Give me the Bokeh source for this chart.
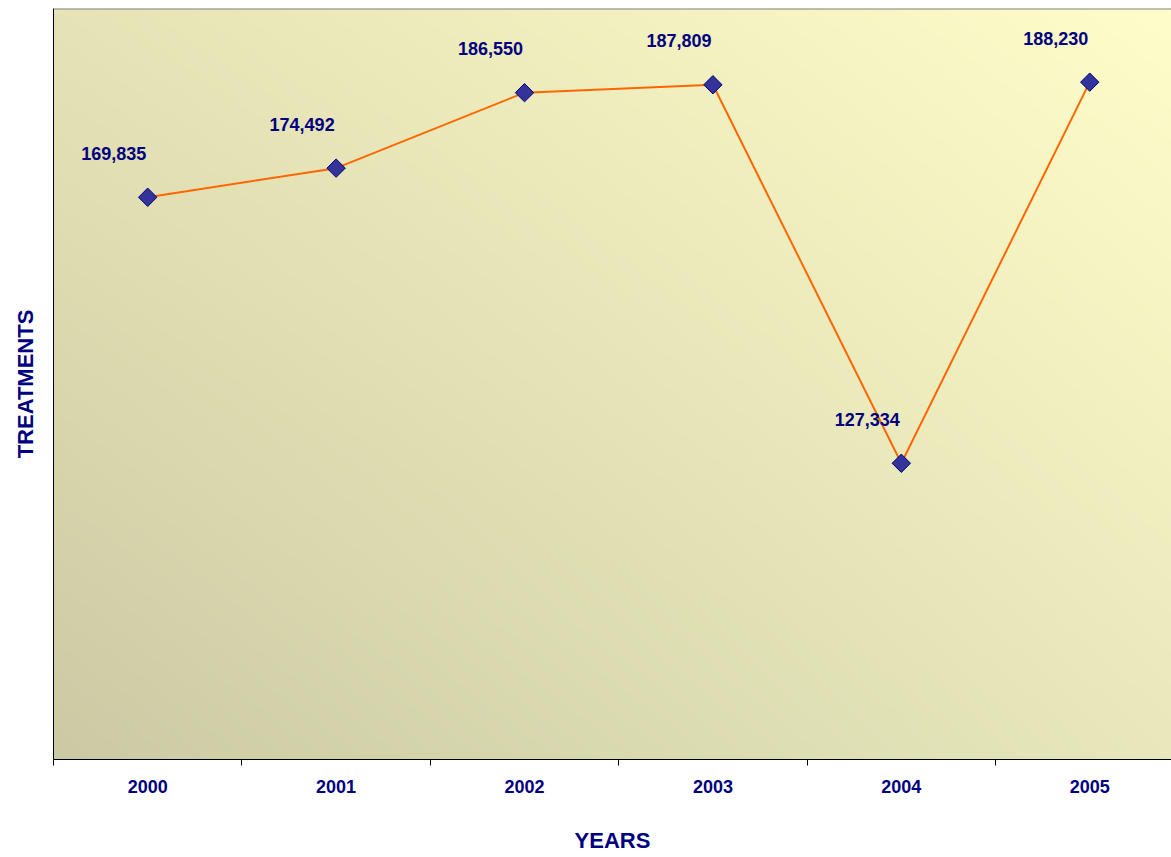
import numpy as np
from bokeh.plotting import figure
from bokeh.models import ColumnDataSource, FixedTicker, Range1d, Span, LinearAxis
from bokeh.core.properties import value
from bokeh.embed import file_html
from bokeh.resources import INLINE

years = ["2000", "2001", "2002", "2003", "2004", "2005"]
treatments = [169835, 174492, 186550, 187809, 127334, 188230]
labels = [f"{v:,}" for v in treatments]

NAVY = "#000080"
FONT = "Liberation Sans"

xs = list(range(len(years)))
src = ColumnDataSource(dict(x=xs, y=treatments, lab=labels))

x0, x1 = -0.5, 5.434
y0, y1 = 80000, 200000

p = figure(width=1171, height=857, output_backend="svg", toolbar_location=None,
           x_range=Range1d(x0, x1), y_range=Range1d(y0, y1),
           min_border_left=53, min_border_right=0, min_border_top=8, min_border_bottom=98,
           x_axis_location=None, y_axis_location=None)
p.outline_line_color = None
p.grid.visible = False
p.background_fill_color = "white"
p.border_fill_color = "white"

# gradient background (bottom-left dark olive -> top-right light yellow)
nx, ny = 240, 160
u = np.linspace(0, 1, nx)[None, :]
v = np.linspace(0, 1, ny)[:, None]
BL = np.array([203, 202, 164.0]); BR = np.array([232, 232, 188.0])
TL = np.array([230, 228, 182.0]); TR = np.array([255, 253, 201.0])
rgb = ((1 - u)[..., None] * (1 - v)[..., None] * BL + u[..., None] * (1 - v)[..., None] * BR
       + (1 - u)[..., None] * v[..., None] * TL + u[..., None] * v[..., None] * TR)
img = np.empty((ny, nx), dtype=np.uint32)
view = img.view(dtype=np.uint8).reshape((ny, nx, 4))
view[..., :3] = np.clip(rgb, 0, 255).astype(np.uint8)
view[..., 3] = 255
p.image_rgba(image=[img], x=x0, y=y0, dw=x1 - x0, dh=y1 - y0)

p.add_layout(Span(location=y1, dimension="width", line_color="#808080", line_width=2))

p.line("x", "y", source=src, line_color="#ff6600", line_width=2)
p.scatter("x", "y", source=src, marker="square", size=13, angle=np.pi / 4,
          fill_color="#333399", line_color=NAVY, line_width=1)
p.text("x", "y", text="lab", source=src, x_offset=-34, y_offset=-44,
       text_align="center", text_baseline="middle", text_color=NAVY,
       text_font=value(FONT), text_font_style="bold", text_font_size="18px")

xaxis = LinearAxis(ticker=FixedTicker(ticks=xs, minor_ticks=[i - 0.5 for i in range(7)]),
                   major_label_overrides={i: y for i, y in enumerate(years)})
xaxis.axis_line_color = "black"
xaxis.major_tick_out = 0
xaxis.major_tick_in = 0
xaxis.minor_tick_out = 6
xaxis.minor_tick_in = 0
xaxis.minor_tick_line_color = "black"
xaxis.major_label_standoff = 14
xaxis.major_label_text_color = NAVY
xaxis.major_label_text_font = FONT
xaxis.major_label_text_font_style = "bold"
xaxis.major_label_text_font_size = "18px"
xaxis.axis_label = "YEARS"
xaxis.axis_label_standoff = 32
xaxis.axis_label_text_color = NAVY
xaxis.axis_label_text_font = FONT
xaxis.axis_label_text_font_style = "bold"
xaxis.axis_label_text_font_size = "22px"
p.add_layout(xaxis, "below")

yaxis = LinearAxis(ticker=FixedTicker(ticks=[]))
yaxis.axis_line_color = "black"
yaxis.major_tick_out = 0
yaxis.major_tick_in = 0
yaxis.minor_tick_out = 0
yaxis.major_label_text_font_size = "0px"
yaxis.axis_label = "TREATMENTS"
yaxis.axis_label_standoff = 16
yaxis.axis_label_text_color = NAVY
yaxis.axis_label_text_font = FONT
yaxis.axis_label_text_font_style = "bold"
yaxis.axis_label_text_font_size = "22px"
p.add_layout(yaxis, "left")

open("out.html", "w").write(file_html(p, INLINE))
